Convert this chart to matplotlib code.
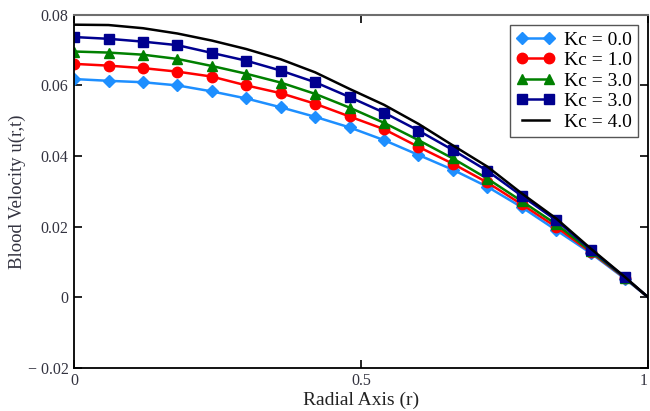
import matplotlib
matplotlib.use("Agg")
import matplotlib.pyplot as plt
from matplotlib.ticker import FixedLocator, FixedFormatter

plt.rcParams['font.family'] = ['Liberation Serif', 'DejaVu Serif']

# Radial positions of the computed profile
r = [0.00, 0.06, 0.12, 0.18, 0.24, 0.30, 0.36, 0.42, 0.48, 0.54,
     0.60, 0.66, 0.72, 0.78, 0.84, 0.90, 0.96, 1.00]

# Blood velocity u(r,t) for each value of Kc
u_kc0 = [0.0618, 0.0613, 0.0609, 0.0600, 0.0583, 0.0563, 0.0538, 0.0511, 0.0481,
         0.0445, 0.0403, 0.0361, 0.0313, 0.0255, 0.0190, 0.0125, 0.0052, 0.0]
u_kc1 = [0.0661, 0.0656, 0.0649, 0.0639, 0.0625, 0.0600, 0.0578, 0.0548, 0.0512,
         0.0476, 0.0426, 0.0378, 0.0325, 0.0263, 0.0199, 0.0128, 0.0054, 0.0]
u_kc3a = [0.0696, 0.0693, 0.0687, 0.0675, 0.0655, 0.0633, 0.0608, 0.0576, 0.0537,
          0.0494, 0.0445, 0.0393, 0.0336, 0.0272, 0.0207, 0.0131, 0.0055, 0.0]
u_kc3b = [0.0737, 0.0732, 0.0724, 0.0714, 0.0692, 0.0670, 0.0642, 0.0609, 0.0567,
          0.0523, 0.0472, 0.0417, 0.0358, 0.0287, 0.0218, 0.0135, 0.0056, 0.0]
u_kc4 = [0.0772, 0.0771, 0.0762, 0.0747, 0.0727, 0.0703, 0.0674, 0.0637, 0.0590,
         0.0545, 0.0491, 0.0430, 0.0370, 0.0294, 0.0223, 0.0138, 0.0057, 0.0]

labels = ["Kc = 0.0", "Kc = 1.0", "Kc = 3.0", "Kc = 3.0", "Kc = 4.0"]

y_ticks = [-0.02, 0.0, 0.02, 0.04, 0.06, 0.08]
y_tick_labels = ["\u2212 0.02", "0", "0.02", "0.04", "0.06", "0.08"]
x_ticks = [0.0, 0.5, 1.0]
x_tick_labels = ["0", "0.5", "1"]

fig = plt.figure(figsize=(6.5, 4.11), dpi=100)
ax = fig.add_axes([0.114, 0.105, 0.883, 0.859])

marks = list(range(len(r) - 1))
ax.plot(r, u_kc0, color="#1e8fff", lw=1.8, marker="D", ms=6, markevery=marks, label=labels[0])
ax.plot(r, u_kc1, color="#ff0000", lw=1.8, marker="o", ms=7.5, markevery=marks, label=labels[1])
ax.plot(r, u_kc3a, color="#008000", lw=1.8, marker="^", ms=7.5, markevery=marks, label=labels[2])
ax.plot(r, u_kc3b, color="#00008f", lw=1.8, marker="s", ms=7, markevery=marks, label=labels[3])
ax.plot(r, u_kc4, color="#000000", lw=1.8, label=labels[4])

ax.set_xlim(0, 1)
ax.set_ylim(-0.02, 0.08)
ax.xaxis.set_major_locator(FixedLocator(x_ticks))
ax.xaxis.set_major_formatter(FixedFormatter(x_tick_labels))
ax.yaxis.set_major_locator(FixedLocator(y_ticks))
ax.yaxis.set_major_formatter(FixedFormatter(y_tick_labels))

ax.tick_params(axis="both", direction="in", length=6, width=1.2,
               labelsize=11.5, labelcolor="#333340", top=True, right=True)
ax.tick_params(axis="y", pad=4)
ax.tick_params(axis="x", pad=4)

# keep the last x label inside the figure edge
xlabels = ax.get_xticklabels()
xlabels[-1].set_horizontalalignment("right")

for side in ["left", "bottom", "right"]:
    ax.spines[side].set_color("#000000")
    ax.spines[side].set_linewidth(1.3)
ax.spines["top"].set_color("#6e6e6e")
ax.spines["top"].set_linewidth(1.5)

ax.set_xlabel("Radial Axis (r)", fontsize=14, color="#222222", labelpad=2)
ax.set_ylabel("Blood Velocity u(r,t)", fontsize=13.5, color="#333340", labelpad=1)

leg = ax.legend(loc="upper right", bbox_to_anchor=(0.993, 0.987), fontsize=14,
                numpoints=2, handlelength=2.0, handletextpad=0.5,
                labelspacing=0.15, borderpad=0.3, borderaxespad=0.3,
                fancybox=False, framealpha=1)
leg.get_frame().set_edgecolor("#555555")
leg.get_frame().set_linewidth(1.0)

fig.savefig("out.png", dpi=100)
